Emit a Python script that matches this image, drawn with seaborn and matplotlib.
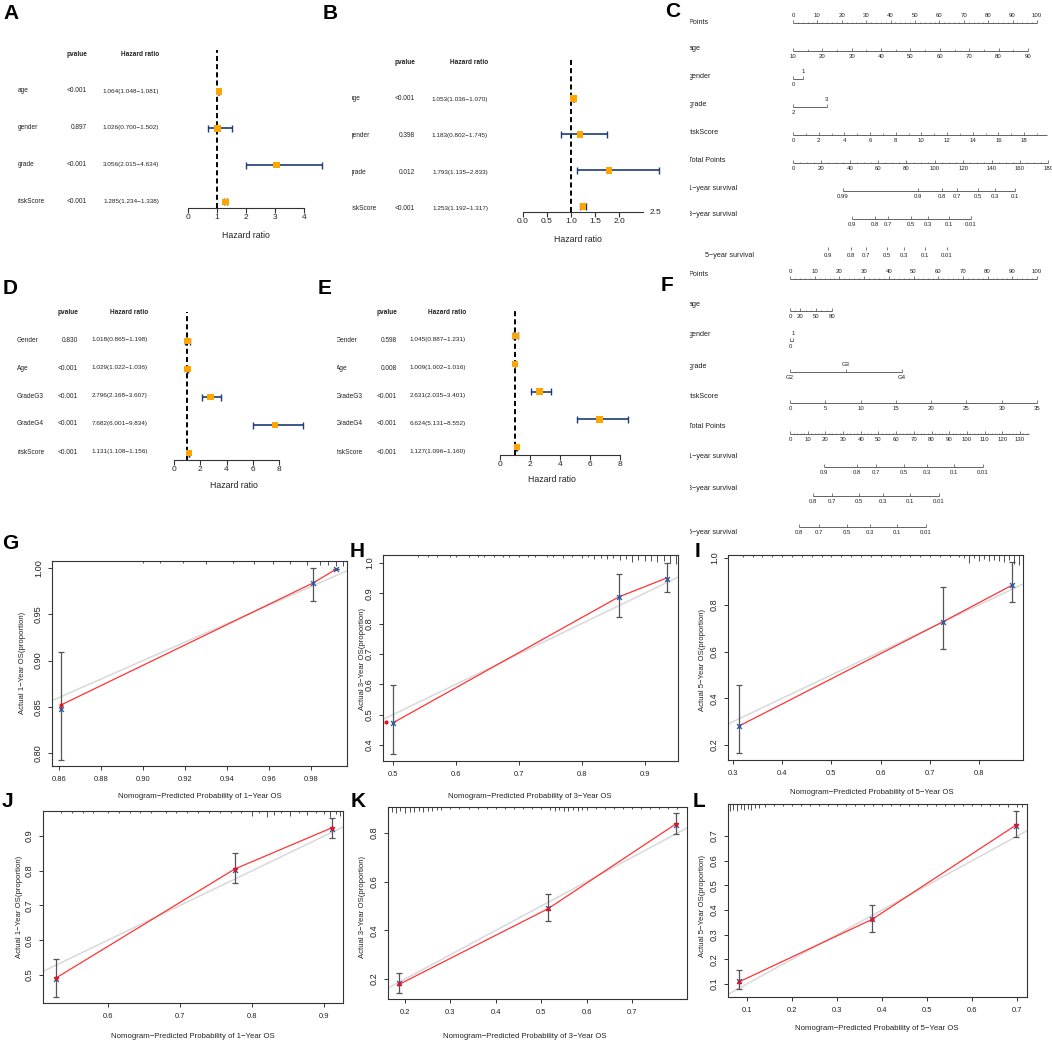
import numpy as np
import matplotlib
matplotlib.use('Agg')
import matplotlib.pyplot as plt
from matplotlib.transforms import Bbox, TransformedBbox
import seaborn as sns

W, H = 1052, 1043

# ---------------- forest plots (A, B, D, E) ----------------
ab_names = ['age', 'gender', 'grade', 'riskScore']
a_pval = ['<0.001', '0.897', '<0.001', '<0.001']
a_hr = [1.064, 1.026, 3.056, 1.285]
a_low = [1.048, 0.700, 2.015, 1.234]
a_high = [1.081, 1.502, 4.634, 1.338]

b_pval = ['<0.001', '0.398', '0.012', '<0.001']
b_hr = [1.053, 1.183, 1.793, 1.253]
b_low = [1.036, 0.802, 1.135, 1.192]
b_high = [1.070, 1.745, 2.833, 1.317]

de_names = ['Gender', 'Age', 'GradeG3', 'GradeG4', 'riskScore']
d_pval = ['0.830', '<0.001', '<0.001', '<0.001', '<0.001']
d_hr = [1.018, 1.029, 2.796, 7.682, 1.131]
d_low = [0.865, 1.022, 2.168, 6.001, 1.108]
d_high = [1.198, 1.036, 3.607, 9.834, 1.156]

e_pval = ['0.598', '0.008', '<0.001', '<0.001', '<0.001']
e_hr = [1.045, 1.009, 2.631, 6.624, 1.127]
e_low = [0.887, 1.002, 2.035, 5.131, 1.096]
e_high = [1.231, 1.016, 3.401, 8.552, 1.160]

# ---------------- nomograms (C, F) ----------------
nomo_names = ['Points', 'age', 'gender', 'grade', 'riskScore', 'Total Points',
              '1\u2212year survival', '3\u2212year survival', '5\u2212year survival']

c_age = [10, 20, 30, 40, 50, 60, 70, 80, 90]
c_age_pts = [0, 96.3]          # points for age 10 and 90
c_gender_pts = [0, 4.1]
c_grade_pts = [0, 13.9]
c_risk = [0, 2, 4, 6, 8, 10, 12, 14, 16, 18]
c_risk_pts = [0, 94.7]         # points for riskScore 0 and 18
c_total = [0, 20, 40, 60, 80, 100, 120, 140, 160, 180]
c_total_pts = [0, 93.0]        # points-axis place of total 0 and 160
c_surv1 = ['0.99', '0.9', '0.8', '0.7', '0.5', '0.3', '0.1']
c_surv1_tp = [35.2, 88.1, 105.0, 115.6, 130.4, 142.3, 156.4]
c_surv3 = ['0.9', '0.8', '0.7', '0.5', '0.3', '0.1', '0.01']
c_surv3_tp = [41.6, 57.8, 66.9, 83.2, 95.1, 109.9, 125.4]
c_surv5 = ['0.9', '0.8', '0.7', '0.5', '0.3', '0.1', '0.01']
c_surv5_tp = [24.7, 40.9, 51.4, 66.2, 78.2, 93.0, 108.5]

f_age = [0, 20, 50, 80]
f_age_pts = [0, 17.0]          # points for age 0 and 80
f_gender_pts = [0, 1.2]
f_grade = ['G2', 'G3', 'G4']
f_grade_pts = [0, 22.7, 45.3]
f_risk = [0, 5, 10, 15, 20, 25, 30, 35]
f_risk_pts = [0, 100]
f_total = [0, 10, 20, 30, 40, 50, 60, 70, 80, 90, 100, 110, 120, 130]
f_total_pts = [0, 93.1]
f_surv1 = ['0.9', '0.8', '0.7', '0.5', '0.3', '0.1', '0.01']
f_surv1_tp = [19.2, 37.9, 48.6, 64.4, 77.4, 92.7, 109.1]
f_surv3 = ['0.8', '0.7', '0.5', '0.3', '0.1', '0.01']
f_surv3_tp = [13.0, 23.7, 39.0, 52.5, 67.8, 84.2]
f_surv5 = ['0.8', '0.7', '0.5', '0.3', '0.1', '0.01']
f_surv5_tp = [5.1, 16.4, 32.2, 45.2, 60.5, 76.9]

# ---------------- calibration curves (G-L) ----------------
g_pred = [0.861, 0.981, 0.992]
g_obs = [0.848, 0.984, 0.999]
g_low = [0.793, 0.964, 0.999]
g_high = [0.909, 1.000, 0.999]
g_red = [0.852, 0.984, 0.999]
g_dot_x, g_dot_y = [0.861], [0.852]
g_rug_x = [0.900, 0.908, 0.919, 0.930, 0.943, 0.953, 0.962, 0.970, 0.978, 0.984, 0.988, 0.992, 0.995]
g_rug_len = [2, 2, 2, 3, 2, 3, 3, 3, 4, 4, 4, 5, 5]

h_pred = [0.500, 0.859, 0.936]
h_obs = [0.473, 0.888, 0.947]
h_low = [0.370, 0.822, 0.905]
h_high = [0.598, 0.964, 1.000]
h_red = [0.473, 0.888, 0.951]
h_dot_x, h_dot_y = [0.489], [0.476]
h_rug_x = [0.54, 0.555, 0.57, 0.59, 0.60, 0.62, 0.635, 0.645, 0.66, 0.675,
           0.685, 0.70, 0.715, 0.725, 0.745, 0.755, 0.77, 0.785, 0.80, 0.81,
           0.82, 0.83, 0.84, 0.85, 0.86, 0.87, 0.88, 0.89, 0.90, 0.91,
           0.92, 0.93, 0.94, 0.95]
h_rug_len = [1.5, 1.5, 1.5, 1.5, 1.5, 1.5, 1.5, 1.5, 1.5, 1.5,
             1.5, 2, 1.5, 2, 2, 2, 3, 2, 3, 2,
             4, 3, 4, 3, 5, 4, 7, 5, 6, 6,
             7, 6, 8, 9]

i_pred = [0.312, 0.727, 0.867]
i_obs = [0.281, 0.728, 0.884]
i_low = [0.166, 0.612, 0.812]
i_high = [0.456, 0.874, 0.983]
i_red = [0.281, 0.728, 0.884]
i_dot_x, i_dot_y = [], []
i_rug_x = [0.32, 0.34, 0.36, 0.38, 0.40, 0.42, 0.44, 0.46, 0.48, 0.50,
           0.52, 0.54, 0.56, 0.58, 0.60, 0.62, 0.64, 0.66, 0.68, 0.70,
           0.72, 0.74, 0.76, 0.77, 0.78, 0.79, 0.80, 0.81, 0.82, 0.83,
           0.84, 0.85, 0.86, 0.87, 0.88]
i_rug_len = [1.5, 1.5, 1.5, 1.5, 1.5, 1.5, 1.5, 1.5, 1.5, 1.5,
             1.5, 1.5, 1.5, 1.5, 1.5, 1.5, 1.5, 1.5, 2, 1.5,
             2, 2, 2, 3, 8, 3, 6, 4, 6, 5,
             6, 7, 5, 9, 10]

j_pred = [0.528, 0.776, 0.911]
j_obs = [0.489, 0.803, 0.921]
j_low = [0.437, 0.764, 0.894]
j_high = [0.546, 0.851, 0.952]
j_red = [0.491, 0.805, 0.924]
j_dot_x, j_dot_y = j_pred, j_red
j_rug_x = [0.535, 0.55, 0.565, 0.58, 0.60, 0.615, 0.63, 0.645, 0.66, 0.68,
           0.695, 0.71, 0.725, 0.74, 0.755, 0.77, 0.785, 0.80, 0.81, 0.82,
           0.83, 0.84, 0.852, 0.865, 0.876, 0.888, 0.90, 0.908, 0.916, 0.922]
j_rug_len = [2, 1.5, 1.5, 2, 1.5, 1.5, 2, 1.5, 1.5, 2,
             1.5, 1.5, 2, 1.5, 2, 2, 2, 5, 2, 6,
             4, 2, 5, 2, 4, 2, 3, 6, 3, 5]

k_pred = [0.187, 0.515, 0.797]
k_obs = [0.184, 0.490, 0.832]
k_low = [0.141, 0.439, 0.796]
k_high = [0.223, 0.550, 0.882]
k_red = [0.178, 0.489, 0.838]
k_dot_x, k_dot_y = k_pred, k_red
k_rug_x = [0.172, 0.18, 0.19, 0.20, 0.21, 0.22, 0.23, 0.24, 0.25, 0.26,
           0.27, 0.28, 0.30, 0.32, 0.34, 0.36, 0.38, 0.40, 0.42, 0.44,
           0.46, 0.48, 0.50, 0.52, 0.53, 0.54, 0.55, 0.56, 0.57, 0.58,
           0.59, 0.60, 0.62, 0.64, 0.66, 0.68, 0.70, 0.72, 0.74, 0.76,
           0.78, 0.80]
k_rug_len = [5, 6, 4, 6, 5, 5, 4, 5, 4, 4,
             3, 3, 1.5, 1.5, 1.5, 1.5, 1.5, 1.5, 1.5, 1.5,
             1.5, 1.5, 1.5, 3, 4, 3, 4, 4, 3, 4,
             3, 3, 1.5, 1.5, 1.5, 1.5, 1.5, 1.5, 1.5, 1.5,
             1.5, 1.5]

l_pred = [0.082, 0.378, 0.698]
l_obs = [0.112, 0.362, 0.740]
l_low = [0.078, 0.310, 0.696]
l_high = [0.155, 0.420, 0.800]
l_red = [0.108, 0.362, 0.745]
l_dot_x, l_dot_y = l_pred, l_red
l_rug_x = [0.062, 0.07, 0.078, 0.086, 0.094, 0.102, 0.11, 0.118, 0.126, 0.14,
           0.16, 0.18, 0.20, 0.22, 0.24, 0.26, 0.28, 0.30, 0.32, 0.34,
           0.36, 0.38, 0.40, 0.42, 0.44, 0.46, 0.48, 0.50, 0.52, 0.54,
           0.56, 0.58, 0.60, 0.62, 0.64, 0.66, 0.68, 0.70, 0.71]
l_rug_len = [7, 6, 7, 5, 6, 5, 6, 4, 4, 3,
             2, 1.5, 1.5, 1.5, 1.5, 1.5, 1.5, 1.5, 1.5, 1.5,
             1.5, 1.5, 1.5, 1.5, 1.5, 1.5, 1.5, 1.5, 1.5, 1.5,
             1.5, 1.5, 1.5, 1.5, 1.5, 1.5, 3, 3, 3]

# ---------------- style ----------------
sns.set_theme(style='white')
plt.rcParams['font.family'] = ['Liberation Sans', 'DejaVu Sans']

NAVY = '#1d3b78'
ORANGE = '#ffa500'
INK = '#222222'
GREY = '#4a4a4a'
M = '\u2212'

fig = plt.figure(figsize=(W / 100, H / 100), dpi=100)
fig.patch.set_facecolor('white')


def box(l, t, r, b):
    return fig.add_axes([l / W, 1 - b / H, (r - l) / W, (b - t) / H])


def ftext(x, y, s, clip_x=None, **kw):
    kw.setdefault('ha', 'left')
    kw.setdefault('va', 'center')
    kw.setdefault('color', INK)
    t = fig.text(x / W, 1 - y / H, s, **kw)
    if clip_x is not None:
        t.set_clip_box(TransformedBbox(Bbox.from_extents(clip_x / W, 0, 1, 1), fig.transFigure))
        t.set_clip_on(True)
    return t


def table(names, pvals, hr, low, high, name_x, p_r, hr_r, head_y, row0, dy, clip_x=None):
    ftext(p_r, head_y, 'pvalue', ha='right', fontsize=4.7, weight='bold')
    ftext(hr_r, head_y, 'Hazard ratio', ha='right', fontsize=4.7, weight='bold')
    for i in range(len(names)):
        y = row0 + i * dy
        ftext(name_x, y, names[i], clip_x=clip_x, fontsize=4.7)
        ftext(p_r, y, pvals[i], ha='right', fontsize=4.7)
        ftext(hr_r, y, f'{hr[i]:.3f}({low[i]:.3f}{M}{high[i]:.3f})', ha='right', fontsize=4.6)


def forest(x0, x1, xmax, top, bot, row0, dy, hr, low, high, ticks, tick_labels):
    ax = box(x0, top, x1, bot)
    rows = np.arange(len(hr))
    ax.set_xlim(0, xmax)
    ax.set_ylim((bot - row0) / dy, (top - row0) / dy)
    ax.axvline(1, color='black', lw=1.4, ls=(0, (2.6, 1.6)), zorder=1)
    cap = 3.5 / dy
    ax.hlines(rows, low, high, color=NAVY, lw=1.2, zorder=2, clip_on=False)
    ax.vlines(low, rows - cap, rows + cap, color=NAVY, lw=1.0, zorder=2, clip_on=False)
    ax.vlines(high, rows - cap, rows + cap, color=NAVY, lw=1.0, zorder=2, clip_on=False)
    sns.scatterplot(x=hr, y=rows, marker='s', s=22, color=ORANGE, edgecolor='none',
                    ax=ax, zorder=3, clip_on=False, legend=False)
    for side in ['top', 'right', 'left']:
        ax.spines[side].set_visible(False)
    ax.spines['bottom'].set_color('#333333')
    ax.spines['bottom'].set_linewidth(0.8)
    ax.spines['bottom'].set_bounds(0, xmax)
    ax.set_xticks(ticks)
    ax.set_xticklabels(tick_labels)
    ax.set_yticks([])
    ax.tick_params(axis='x', bottom=True, direction='out', length=3.5, width=0.8,
                   color='#333333', pad=1, labelsize=6, labelcolor=INK)
    ax.patch.set_alpha(0)
    return ax


def nomo_row(x0, k, y, p_lo, p_hi, v_lo, v_hi, ticks, labels, sides=None,
             span=None, minor=(), fs=4.3):
    ax = box(x0 + p_lo * k, y - 3, x0 + p_hi * k, y)
    ax.set_xlim(v_lo, v_hi)
    ax.set_ylim(0, 1)
    ax.axis('off')
    if span is not None:
        ax.plot(span, [0, 0], color=GREY, lw=0.6, clip_on=False, solid_capstyle='butt')
    ax.vlines(ticks, 0, 1, color=GREY, lw=0.5, clip_on=False)
    if len(minor):
        ax.vlines(minor, 0, 0.5, color=GREY, lw=0.4, clip_on=False)
    if sides is None:
        sides = ['down'] * len(ticks)
    for v, s, side in zip(ticks, labels, sides):
        up = side == 'up'
        ax.annotate(s, (v, 0), xycoords=('data', 'axes fraction'),
                    xytext=(0, 3.4 if up else -2.0), textcoords='offset points',
                    ha='center', va='bottom' if up else 'top', fontsize=fs,
                    color=INK, annotation_clip=False)


def calib(bx, xlim, ylim, xticks, xlabels, yticks, ylabels, pred, obs, low, high,
          red, dot_x, dot_y, rug_x, rug_len, xtitle, ytitle, xt_pos, yt_pos):
    l, t, r, b = bx
    ax = box(l, t, r, b)
    ax.set_xlim(*xlim)
    ax.set_ylim(*ylim)
    obs = np.array(obs)
    ax.axline((0, 0), slope=1, color='#d9d9d9', lw=1.1, zorder=1)
    ax.errorbar(pred, obs, yerr=[obs - np.array(low), np.array(high) - obs], fmt='none',
                ecolor='#555555', elinewidth=0.9, capsize=2, capthick=0.9, zorder=2)
    sns.lineplot(x=pred, y=red, ax=ax, color='#ff3333', lw=0.9, sort=False,
                 estimator=None, zorder=3)
    sns.scatterplot(x=pred, y=obs, marker='x', color='#2f5aa0', s=12, linewidth=1.0,
                    ax=ax, zorder=4, legend=False)
    if len(dot_x):
        ax.scatter(dot_x, dot_y, s=9, color='#e8141d', zorder=5, linewidths=0)
    ax.vlines(rug_x, 1 - np.array(rug_len) / (b - t), 1,
              transform=ax.get_xaxis_transform(), color='#333333', lw=0.6)
    for s in ax.spines.values():
        s.set_visible(True)
        s.set_color('#333333')
        s.set_linewidth(0.8)
    ax.set_xticks(xticks)
    ax.set_xticklabels(xlabels)
    ax.set_yticks(yticks)
    ax.set_yticklabels(ylabels)
    ax.tick_params(axis='both', bottom=True, left=True, direction='out', length=3,
                   width=0.7, color='#333333', labelcolor=INK)
    ax.tick_params(axis='x', labelsize=5.4, pad=4.5)
    ax.tick_params(axis='y', labelsize=6.6, pad=3.5, labelrotation=90)
    for lb in ax.get_yticklabels():
        lb.set_va('center')
    ftext(xt_pos[0], xt_pos[1], xtitle, ha='center', fontsize=5.6)
    ftext(yt_pos[0], yt_pos[1], ytitle, ha='center', rotation=90, fontsize=5.6)
    return ax


# ---------------- A, B ----------------
table(ab_names, a_pval, a_hr, a_low, a_high, 18, 87, 159, 55, 91, 36.7)
forest(188, 304, 4, 50, 208, 91.7, 36.7, a_hr, a_low, a_high,
       [0, 1, 2, 3, 4], ['0', '1', '2', '3', '4'])
ftext(246, 235, 'Hazard ratio', ha='center', fontsize=6.3)

table(ab_names, b_pval, b_hr, b_low, b_high, 350, 415, 488, 63, 99, 36.6, clip_x=352)
axb = forest(523, 643, 2.5, 58, 212, 98.3, 36.1, b_hr, b_low, b_high,
             [0, 0.5, 1, 1.5, 2], ['0.0', '0.5', '1.0', '1.5', '2.0'])
axb.annotate('2.5', (2.5, 0), xycoords=('data', 'axes fraction'), xytext=(5, 0),
             textcoords='offset points', ha='left', va='center', fontsize=6,
             color=INK, annotation_clip=False)
ftext(578, 240, 'Hazard ratio', ha='center', fontsize=6.3)

# ---------------- D, E ----------------
table(de_names, d_pval, d_hr, d_low, d_high, 17, 78, 148, 312, 340, 28)
forest(174, 279, 8, 312, 460, 341, 28, d_hr, d_low, d_high,
       [0, 2, 4, 6, 8], ['0', '2', '4', '6', '8'])
ftext(234, 486, 'Hazard ratio', ha='center', fontsize=6.3)

table(de_names, e_pval, e_hr, e_low, e_high, 335.5, 397, 466, 312, 340, 28, clip_x=337)
forest(500, 620, 8, 308, 455, 336, 27.8, e_hr, e_low, e_high,
       [0, 2, 4, 6, 8], ['0', '2', '4', '6', '8'])
ftext(552, 479, 'Hazard ratio', ha='center', fontsize=6.3)

# ---------------- C nomogram ----------------
cx, ck = 793, 2.44
pts_major = list(range(0, 101, 10))
pts_minor = [v for v in range(0, 101, 2) if v % 10]
nomo_row(cx, ck, 23, 0, 100, 0, 100, pts_major, [str(v) for v in pts_major],
         sides=['up'] * len(pts_major), span=(0, 100), minor=pts_minor)
nomo_row(cx, ck, 51, c_age_pts[0], c_age_pts[1], 10, 90, c_age, [str(v) for v in c_age],
         span=(10, 90), minor=[15, 25, 35, 45, 55, 65, 75, 85])
nomo_row(cx, ck, 79, c_gender_pts[0], c_gender_pts[1], 0, 1, [0, 1], ['0', '1'],
         sides=['down', 'up'], span=(0, 1))
nomo_row(cx, ck, 107, c_grade_pts[0], c_grade_pts[1], 2, 3, [2, 3], ['2', '3'],
         sides=['down', 'up'], span=(2, 3))
nomo_row(cx, ck, 135, c_risk_pts[0], c_risk_pts[1], 0, 18, c_risk, [str(v) for v in c_risk],
         span=(0, 19.8), minor=[1, 3, 5, 7, 9, 11, 13, 15, 17, 19])
nomo_row(cx, ck, 163, c_total_pts[0], c_total_pts[1], 0, 160, c_total,
         [str(v) for v in c_total], span=(0, 180),
         minor=[v for v in range(0, 181, 5) if v % 20])
nomo_row(cx, ck, 191, c_total_pts[0], c_total_pts[1], 0, 160, c_surv1_tp, c_surv1,
         span=(c_surv1_tp[0], c_surv1_tp[-1]))
nomo_row(cx, ck, 219, c_total_pts[0], c_total_pts[1], 0, 160, c_surv3_tp, c_surv3,
         span=(c_surv3_tp[0], c_surv3_tp[-1]))
nomo_row(cx, ck, 250, c_total_pts[0], c_total_pts[1], 0, 160, c_surv5_tp, c_surv5)
for name, y in zip(nomo_names[:8], [22, 49, 77, 105, 133, 161, 188, 215]):
    ftext(688.5, y, name, clip_x=690, fontsize=5.2)
ftext(705, 256, nomo_names[8], fontsize=5.2)

# ---------------- F nomogram ----------------
fx, fk = 790, 2.47
nomo_row(fx, fk, 279, 0, 100, 0, 100, pts_major, [str(v) for v in pts_major],
         sides=['up'] * len(pts_major), span=(0, 100), minor=pts_minor)
nomo_row(fx, fk, 311, f_age_pts[0], f_age_pts[1], 0, 80, f_age, [str(v) for v in f_age],
         span=(0, 80), minor=[10, 30, 40, 60, 70])
nomo_row(fx, fk, 341, f_gender_pts[0], f_gender_pts[1], 0, 1, [0, 1], ['0', '1'],
         sides=['down', 'up'], span=(0, 1))
nomo_row(fx, fk, 372, f_grade_pts[0], f_grade_pts[-1], f_grade_pts[0], f_grade_pts[-1],
         f_grade_pts, f_grade, sides=['down', 'up', 'down'],
         span=(f_grade_pts[0], f_grade_pts[-1]))
nomo_row(fx, fk, 403, f_risk_pts[0], f_risk_pts[1], 0, 35, f_risk, [str(v) for v in f_risk],
         span=(0, 35))
nomo_row(fx, fk, 434, f_total_pts[0], f_total_pts[1], 0, 130, f_total,
         [str(v) for v in f_total], span=(0, 135),
         minor=[v for v in range(0, 135, 2) if v % 10])
nomo_row(fx, fk, 467, f_total_pts[0], f_total_pts[1], 0, 130, f_surv1_tp, f_surv1,
         span=(f_surv1_tp[0], f_surv1_tp[-1]))
nomo_row(fx, fk, 496, f_total_pts[0], f_total_pts[1], 0, 130, f_surv3_tp, f_surv3,
         span=(f_surv3_tp[0], f_surv3_tp[-1]))
nomo_row(fx, fk, 527, f_total_pts[0], f_total_pts[1], 0, 130, f_surv5_tp, f_surv5,
         span=(f_surv5_tp[0], f_surv5_tp[-1]))
for name, y in zip(nomo_names, [275, 304, 335, 366, 397, 427, 457, 489, 533]):
    ftext(688.5, y, name, clip_x=690, fontsize=5.2)

# ---------------- G-L calibration ----------------
act = 'Actual {}' + M + 'Year OS(proportion)'
nom = 'Nomogram' + M + 'Predicted Probability of {}' + M + 'Year OS'

calib((52, 561, 347, 766), (0.8567, 0.997), (0.786, 1.0076),
      [0.86, 0.88, 0.90, 0.92, 0.94, 0.96, 0.98],
      ['0.86', '0.88', '0.90', '0.92', '0.94', '0.96', '0.98'],
      [0.80, 0.85, 0.90, 0.95, 1.00], ['0.80', '0.85', '0.90', '0.95', '1.00'],
      g_pred, g_obs, g_low, g_high, g_red, g_dot_x, g_dot_y, g_rug_x, g_rug_len,
      nom.format(1), act.format(1), (200, 797), (23, 663))
calib((383, 555, 678, 761), (0.484, 0.953), (0.347, 1.026),
      [0.5, 0.6, 0.7, 0.8, 0.9], ['0.5', '0.6', '0.7', '0.8', '0.9'],
      [0.4, 0.5, 0.6, 0.7, 0.8, 0.9, 1.0], ['0.4', '0.5', '0.6', '0.7', '0.8', '0.9', '1.0'],
      h_pred, h_obs, h_low, h_high, h_red, h_dot_x, h_dot_y, h_rug_x, h_rug_len,
      nom.format(3), act.format(3), (530, 796), (362, 659))
calib((728, 555, 1023, 760), (0.29, 0.889), (0.136, 1.013),
      [0.3, 0.4, 0.5, 0.6, 0.7, 0.8], ['0.3', '0.4', '0.5', '0.6', '0.7', '0.8'],
      [0.2, 0.4, 0.6, 0.8, 1.0], ['0.2', '0.4', '0.6', '0.8', '1.0'],
      i_pred, i_obs, i_low, i_high, i_red, i_dot_x, i_dot_y, i_rug_x, i_rug_len,
      nom.format(5), act.format(5), (872, 793), (702, 660))
calib((43, 811, 343, 1003), (0.51, 0.926), (0.419, 0.972),
      [0.6, 0.7, 0.8, 0.9], ['0.6', '0.7', '0.8', '0.9'],
      [0.5, 0.6, 0.7, 0.8, 0.9], ['0.5', '0.6', '0.7', '0.8', '0.9'],
      j_pred, j_obs, j_low, j_high, j_red, j_dot_x, j_dot_y, j_rug_x, j_rug_len,
      nom.format(1), act.format(1), (193, 1036), (20, 907))
calib((388, 807, 687, 999), (0.1626, 0.821), (0.118, 0.907),
      [0.2, 0.3, 0.4, 0.5, 0.6, 0.7], ['0.2', '0.3', '0.4', '0.5', '0.6', '0.7'],
      [0.2, 0.4, 0.6, 0.8], ['0.2', '0.4', '0.6', '0.8'],
      k_pred, k_obs, k_low, k_high, k_red, k_dot_x, k_dot_y, k_rug_x, k_rug_len,
      nom.format(3), act.format(3), (525, 1037), (362, 907))
calib((728, 804, 1027, 997), (0.058, 0.722), (0.047, 0.83),
      [0.1, 0.2, 0.3, 0.4, 0.5, 0.6, 0.7], ['0.1', '0.2', '0.3', '0.4', '0.5', '0.6', '0.7'],
      [0.1, 0.2, 0.3, 0.4, 0.5, 0.6, 0.7], ['0.1', '0.2', '0.3', '0.4', '0.5', '0.6', '0.7'],
      l_pred, l_obs, l_low, l_high, l_red, l_dot_x, l_dot_y, l_rug_x, l_rug_len,
      nom.format(5), act.format(5), (877, 1028), (703, 906))

# ---------------- panel letters ----------------
for lab, x, y in [('A', 3, 4), ('B', 323, 4), ('C', 665, 2), ('D', 3, 279), ('E', 318, 279),
                  ('F', 661, 276), ('G', 2, 534), ('H', 350, 542), ('I', 695, 542),
                  ('J', 2, 792), ('K', 351, 792), ('L', 693, 792)]:
    ftext(x, y, lab, ha='left', va='top', fontsize=15, weight='bold', color='black')

fig.savefig('out.png', dpi=100, facecolor='white')
